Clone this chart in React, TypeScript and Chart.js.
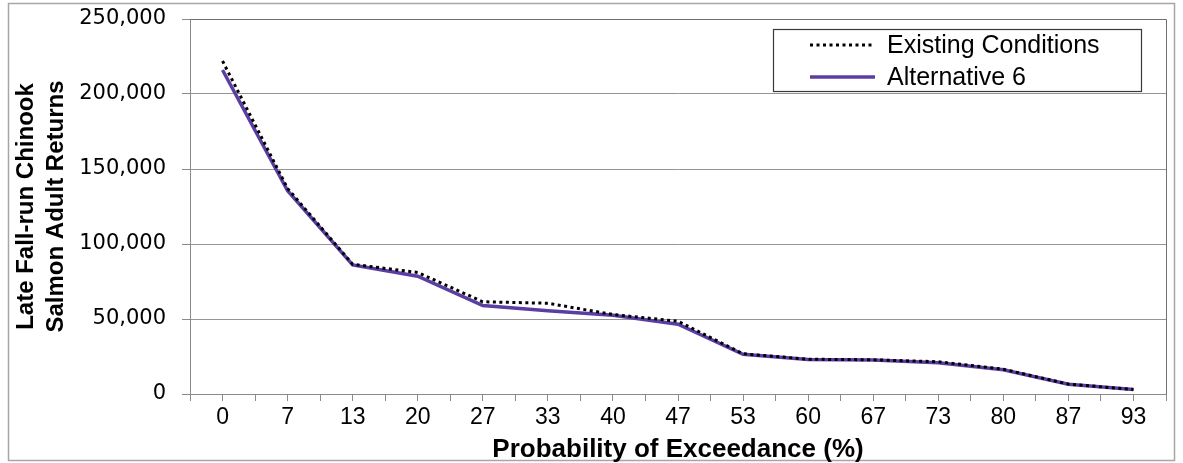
import React, { useEffect, useRef } from 'react';
import { Chart, registerables } from 'chart.js';

Chart.register(...registerables);

// ---- data ----
const categories = ['0', '7', '13', '20', '27', '33', '40', '47', '53', '60', '67', '73', '80', '87', '93'];
const existingConditions = [222000, 137000, 86500, 81000, 61500, 60500, 53000, 48500, 26800, 23200, 22800, 21500, 16500, 6600, 3000];
const alternative6 = [216000, 135500, 86000, 78500, 59000, 55500, 52500, 46500, 26500, 23000, 22700, 20800, 16200, 6500, 3000];
const yTickValues = [0, 50000, 100000, 150000, 200000, 250000];
const seriesLabels = ['Existing Conditions', 'Alternative 6'];
const yTitle = ['Late Fall-run Chinook', 'Salmon Adult Returns'];
const xTitle = 'Probability of Exceedance (%)';

const W = 1183;
const H = 463;

const framePlugin = {
  id: 'framePlugin',
  beforeDraw(chart: any) {
    const ctx = chart.ctx;
    ctx.save();
    ctx.fillStyle = '#ffffff';
    ctx.fillRect(0, 0, chart.width, chart.height);
    ctx.strokeStyle = '#a6a6a6';
    ctx.lineWidth = 1.5;
    ctx.strokeRect(8.5, 3.5, chart.width - 17, chart.height - 6);
    ctx.restore();
  },
  afterDraw(chart: any) {
    const { ctx, chartArea } = chart;
    ctx.save();
    ctx.strokeStyle = '#6f6f6f';
    ctx.lineWidth = 1;
    ctx.beginPath();
    ctx.moveTo(chartArea.left, chartArea.top + 0.5);
    ctx.lineTo(chartArea.right + 0.5, chartArea.top + 0.5);
    ctx.lineTo(chartArea.right + 0.5, chartArea.bottom);
    ctx.stroke();

    // legend box
    const bx = chartArea.right - 393;
    const by = chartArea.top + 10;
    const bw = 368;
    const bh = 62;
    ctx.fillStyle = '#ffffff';
    ctx.fillRect(bx, by, bw, bh);
    ctx.strokeStyle = '#3a3a3a';
    ctx.lineWidth = 1.2;
    ctx.strokeRect(bx + 0.5, by + 0.5, bw, bh);
    ctx.font = '25px "Liberation Sans", Arial, sans-serif';
    ctx.textBaseline = 'middle';
    ctx.textAlign = 'left';
    chart.data.datasets.forEach((ds: any, i: number) => {
      const cy = by + 16 + i * 32;
      ctx.save();
      ctx.strokeStyle = ds.borderColor;
      ctx.lineWidth = ds.borderWidth;
      ctx.setLineDash(ds.borderDash || []);
      ctx.lineCap = 'butt';
      ctx.beginPath();
      ctx.moveTo(bx + 37, cy);
      ctx.lineTo(bx + 102, cy);
      ctx.stroke();
      ctx.restore();
      ctx.fillStyle = '#000000';
      ctx.fillText(ds.label, bx + 114, cy + 1);
    });
    ctx.restore();
  },
};

export default function App() {
  const canvasRef = useRef<HTMLCanvasElement | null>(null);

  useEffect(() => {
    if (!canvasRef.current) return;
    const chart = new Chart(canvasRef.current, {
      type: 'line',
      data: {
        datasets: [
          {
            label: seriesLabels[0],
            data: existingConditions.map((v, i) => ({ x: i, y: v })),
            borderColor: '#000000',
            borderWidth: 3,
            borderDash: [3, 3.5],
            pointRadius: 0,
            tension: 0,
            fill: false,
          },
          {
            label: seriesLabels[1],
            data: alternative6.map((v, i) => ({ x: i, y: v })),
            borderColor: '#5b3ea4',
            borderWidth: 3.5,
            pointRadius: 0,
            tension: 0,
            fill: false,
          },
        ],
      },
      options: {
        responsive: false,
        animation: false,
        layout: { autoPadding: false, padding: { top: 19, right: 17, left: 0, bottom: 0 } },
        plugins: {
          legend: { display: false },
          tooltip: { enabled: false },
        },
        scales: {
          x: {
            type: 'linear',
            min: -0.5,
            max: categories.length - 0.5,
            afterFit: (s: any) => { s.height = 69; s.paddingLeft = 0; s.paddingRight = 0; },
            ticks: {
              stepSize: 0.5,
              autoSkip: false,
              maxRotation: 0,
              padding: 3,
              color: '#000000',
              font: { family: '"Liberation Sans", Arial, sans-serif', size: 23, lineHeight: 1.2 },
              callback: (v: any) => {
                const n = Number(v);
                return Number.isInteger(n) && n >= 0 && n < categories.length ? categories[n] : '';
              },
            },
            grid: { drawOnChartArea: false, drawTicks: true, tickLength: 7, tickColor: '#8a8a8a', color: '#8a8a8a' },
            border: { color: '#8a8a8a', width: 1 },
            title: {
              display: true,
              text: xTitle,
              color: '#000000',
              padding: { top: 0, bottom: 0 },
              font: { family: '"Liberation Sans", Arial, sans-serif', size: 26, weight: 'bold', lineHeight: 1.0 },
            },
          },
          y: {
            min: 0,
            max: 250000,
            afterFit: (s: any) => { s.width = 190; s.paddingTop = 0; s.paddingBottom = 0; },
            afterBuildTicks: (s: any) => { s.ticks = yTickValues.map((v) => ({ value: v })); },
            ticks: {
              padding: 16,
              color: '#000000',
              font: { family: '"DejaVu Sans", sans-serif', size: 21 },
              callback: (v: any) => Number(v).toLocaleString('en-US'),
            },
            grid: { color: '#959595', tickLength: 8, tickColor: '#8a8a8a', lineWidth: 1 },
            border: { color: '#8a8a8a', width: 1 },
            title: {
              display: true,
              text: yTitle,
              color: '#000000',
              padding: { top: 12, bottom: 0 },
              font: { family: '"Liberation Sans", Arial, sans-serif', size: 24, weight: 'bold', lineHeight: 1.22 },
            },
          },
        },
      },
      plugins: [framePlugin],
    } as any);
    return () => chart.destroy();
  }, []);

  return (
    <div style={{ position: 'fixed', left: 0, top: 0, width: W, height: H, background: '#fff' }}>
      <canvas ref={canvasRef} width={W} height={H} style={{ width: W, height: H, display: 'block' }} />
    </div>
  );
}
